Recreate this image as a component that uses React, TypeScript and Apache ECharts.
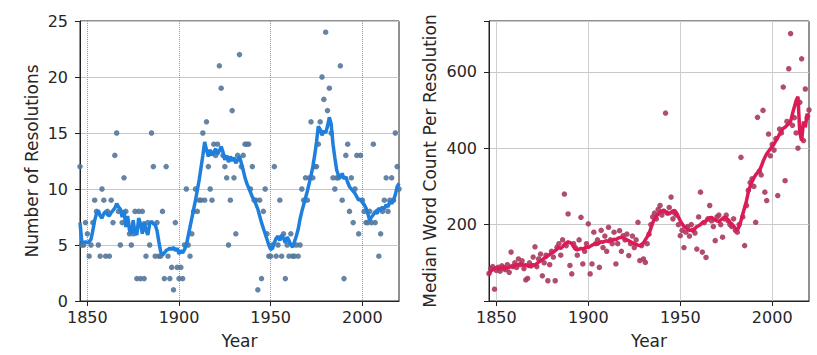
import React, { useEffect, useRef } from "react";
import * as echarts from "echarts";

const FIRST_YEAR = 1846;
const LAST_YEAR = 2020;
const YEARS: number[] = [];
for (let y = FIRST_YEAR; y <= LAST_YEAR; y++) YEARS.push(y);

const X_TICKS = [1850, 1900, 1950, 2000];
const LEFT_Y_TICKS = [0, 5, 10, 15, 20, 25];
const RIGHT_Y_TICKS = [200, 400, 600];

// Number of resolutions per year (scatter)
const RES_COUNT = [
  12, 5, 5, 7,
  6, 4, 5, 7, 9, 8, 5, 4, 10, 9,
  4, 8, 4, 9, 7, 13, 15, 8, 5, 7,
  11, 8, 7, 6, 5, 6, 8, 2, 8, 2,
  8, 2, 4, 7, 5, 15, 12, 4, 7, 4,
  4, 8, 2, 12, 4, 2, 3, 1, 7, 3,
  2, 3, 2, 5, 10, 5, 4, 6, 8, 10,
  8, 9, 9, 15, 9, 16, 12, 10, 9, 14,
  13, 14, 21, 19, 13, 12, 11, 5, 9, 17,
  11, 6, 13, 22, 12, 13, 14, 14, 14, 10,
  12, 9, 9, 1, 9, 2, 8, 10, 6, 4,
  4, 5, 12, 4, 5, 9, 4, 6, 2, 5,
  4, 6, 4, 4, 5, 4, 5, 10, 9, 11,
  9, 11, 16, 11, 12, 12, 14, 16, 20, 18,
  24, 17, 19, 15, 11, 10, 11, 11, 21, 9,
  2, 13, 14, 8, 11, 7, 10, 13, 6, 13,
  9, 8, 7, 7, 8, 7, 14, 7, 8, 4,
  6, 8, 9, 11, 8, 9, 11, 9, 15, 12,
  10,
];

// Rolling trend of resolutions (line)
const RES_TREND = [
  7.0, 5.3, 5.2, 5.3,
  5.2, 5.3, 5.5, 6.3, 7.2, 7.8, 8.1, 7.6, 7.4, 7.8,
  8.0, 7.7, 7.6, 7.9, 8.1, 8.3, 8.7, 8.4, 8.2, 7.5,
  8.1, 6.6, 7.6, 6.3, 6.0, 7.2, 6.1, 5.9, 7.4, 6.9,
  6.0, 7.1, 6.3, 5.9, 6.9, 7.1, 6.9, 6.8, 6.3, 5.3,
  4.4, 4.1, 4.3, 4.5, 4.6, 4.7, 4.6, 4.8, 4.5, 4.7,
  4.2, 4.5, 4.3, 4.6, 5.0, 5.8, 6.6, 7.4, 8.2, 9.0,
  9.9, 10.8, 11.9, 13.0, 14.2, 13.5, 12.9, 13.5, 13.0, 13.3,
  13.6, 13.1, 13.4, 13.8, 13.3, 12.6, 13.0, 12.4, 12.9, 12.5,
  12.8, 12.3, 12.6, 12.9, 12.3, 11.7, 11.0, 10.5, 10.1, 9.7,
  9.3, 9.0, 8.6, 8.2, 7.6, 7.0, 6.5, 6.0, 5.5, 5.0,
  4.6, 4.7, 5.2, 5.6, 5.8, 5.4, 5.9, 5.6, 5.2, 5.7,
  5.4, 5.0, 4.8, 5.3, 5.8, 6.4, 7.3, 8.0, 8.6, 9.2,
  9.8, 10.5, 11.2, 12.0, 13.0, 14.2, 15.6, 15.3, 14.8, 15.2,
  15.0, 15.6, 16.4, 15.8, 14.0, 12.8, 11.7, 11.2, 11.0, 11.4,
  10.9, 11.1, 10.6, 10.2, 10.0, 9.8, 9.6, 9.3, 9.0, 9.1,
  8.8, 8.6, 8.3, 7.8, 7.2, 7.5, 7.7, 8.0, 7.8, 8.3,
  8.1, 8.4, 8.2, 8.6, 8.4, 8.9, 8.7, 9.0, 9.5, 10.2,
  10.5,
];

// Median word count per resolution (scatter)
const WORD_MEDIAN = [
  72, 85, 90, 31,
  80, 88, 78, 92, 85, 82, 95, 75, 128, 90,
  100, 88, 110, 95, 105, 85, 55, 59, 100, 92,
  115, 142, 90, 110, 123, 66, 100, 120, 53, 95,
  130, 115, 53, 141, 150, 120, 160, 280, 145, 228,
  93, 71, 150, 140, 120, 160, 219, 97, 130, 150,
  202, 71, 97, 180, 150, 160, 88, 185, 140, 170,
  130, 193, 160, 150, 180, 97, 150, 184, 130, 171,
  160, 175, 119, 150, 170, 140, 160, 206, 106, 145,
  110, 101, 150, 175, 200, 220, 230, 215, 240, 250,
  225, 235, 492, 230, 245, 272, 215, 230, 225, 200,
  171, 185, 140, 180, 195, 170, 200, 185, 178, 136,
  220, 285, 128, 205, 114, 215, 250, 210, 195, 158,
  220, 225, 200, 167, 215, 225, 210, 200, 195, 215,
  185, 180, 200, 376, 220, 145, 250, 290, 310, 320,
  300, 206, 481, 340, 330, 499, 285, 263, 437, 380,
  410, 395, 425, 276, 450, 440, 560, 315, 470, 608,
  700, 460, 480, 440, 400, 520, 634, 420, 555, 480,
  500,
];

// Rolling trend of median word count (line)
const WORD_TREND = [
  71, 78, 82, 85,
  88, 86, 84, 88, 90, 87, 86, 88, 92, 90,
  93, 96, 94, 97, 96, 93, 95, 92, 90, 93,
  95, 93, 98, 102, 105, 108, 112, 114, 118, 122,
  125, 128, 132, 136, 140, 138, 142, 148, 152, 155,
  153, 150, 142, 136, 134, 136, 138, 136, 139, 141,
  140, 143, 146, 148, 150, 148, 152, 155, 154, 156,
  158, 155, 159, 158, 162, 160, 164, 166, 167, 165,
  162, 160, 158, 155, 152, 150, 148, 146, 145, 148,
  152, 160, 168, 176, 190, 205, 215, 222, 228, 232,
  236, 237, 234, 230, 228, 232, 236, 237, 230, 220,
  210, 202, 195, 192, 188, 185, 186, 184, 190, 195,
  197, 200, 205, 208, 210, 214, 218, 219, 215, 212,
  210, 208, 212, 216, 219, 218, 212, 206, 202, 196,
  190, 185, 195, 210, 228, 245, 262, 285, 300, 312,
  322, 330, 336, 341, 352, 365, 376, 385, 392, 398,
  404, 411, 420, 428, 437, 445, 452, 455, 460, 464,
  470, 490, 507, 525, 535, 440, 420, 470, 455, 490,
  481,
];

const FONT = "DejaVu Sans";
const TEXT = "#262626";
const AXIS = "#222222";

function pairs(vals: number[]) {
  return YEARS.map((y, i) => [y, vals[i]]);
}

function xAxisDef(gridIndex: number, dotted: boolean) {
  return {
    gridIndex,
    type: "value",
    min: FIRST_YEAR,
    max: LAST_YEAR,
    name: "Year",
    nameLocation: "middle",
    nameGap: 31,
    nameTextStyle: { fontFamily: FONT, fontSize: 17, color: TEXT },
    axisLine: { show: true, onZero: false, lineStyle: { color: AXIS, width: 1 } },
    axisTick: { show: true, inside: false, length: 5, customValues: X_TICKS, lineStyle: { color: AXIS } },
    axisLabel: {
      customValues: X_TICKS,
      formatter: (v: number) => String(Math.round(v)),
      fontFamily: FONT,
      fontSize: 16,
      color: TEXT,
      margin: 8,
    },
    splitLine: {
      show: true,
      lineStyle: dotted ? { type: "dotted", color: "#9a9a9a", width: 1 } : { color: "#cfcfcf", width: 1 },
    },
  };
}

function yAxisDef(
  gridIndex: number,
  name: string,
  min: number,
  max: number,
  interval: number,
  ticks: number[],
  gap: number
) {
  return {
    gridIndex,
    type: "value",
    min,
    max,
    interval,
    name,
    nameLocation: "middle",
    nameGap: gap,
    nameTextStyle: { fontFamily: FONT, fontSize: 17, color: TEXT },
    axisLine: { show: true, onZero: false, lineStyle: { color: AXIS, width: 1 } },
    axisTick: { show: true, inside: false, length: 5, lineStyle: { color: AXIS } },
    axisLabel: {
      formatter: (v: number) => (ticks.indexOf(v) >= 0 ? String(v) : ""),
      fontFamily: FONT,
      fontSize: 16,
      color: TEXT,
      margin: 12,
    },
    splitLine: { show: true, lineStyle: { color: "#c8c8c8", width: 1 } },
  };
}

export default function App() {
  const ref = useRef<HTMLDivElement>(null);
  useEffect(() => {
    if (!ref.current) return;
    const chart = echarts.init(ref.current, undefined, { renderer: "svg" });
    chart.setOption({
      animation: false,
      backgroundColor: "#ffffff",
      grid: [
        { left: 80, top: 21, width: 319, height: 280, show: true, borderColor: AXIS, borderWidth: 1, backgroundColor: "transparent" },
        { left: 489, top: 21, width: 320, height: 280, show: true, borderColor: AXIS, borderWidth: 1, backgroundColor: "transparent" },
      ],
      xAxis: [xAxisDef(0, true), xAxisDef(1, false)],
      yAxis: [
        yAxisDef(0, "Number of Resolutions", 0, 25, 5, LEFT_Y_TICKS, 40),
        yAxisDef(1, "Median Word Count Per Resolution", 0, 733, 200, RIGHT_Y_TICKS, 51),
      ],
      series: [
        {
          type: "scatter",
          xAxisIndex: 0,
          yAxisIndex: 0,
          data: pairs(RES_COUNT),
          symbolSize: 5.5,
          itemStyle: { color: "#557799", opacity: 0.9 },
        },
        {
          type: "line",
          xAxisIndex: 0,
          yAxisIndex: 0,
          data: pairs(RES_TREND),
          showSymbol: false,
          lineStyle: { color: "#1f7fdc", width: 3.5 },
        },
        {
          type: "scatter",
          xAxisIndex: 1,
          yAxisIndex: 1,
          data: pairs(WORD_MEDIAN),
          symbolSize: 5.5,
          itemStyle: { color: "#a8385f", opacity: 0.9 },
        },
        {
          type: "line",
          xAxisIndex: 1,
          yAxisIndex: 1,
          data: pairs(WORD_TREND),
          showSymbol: false,
          lineStyle: { color: "#dc1a55", width: 3.5 },
        },
      ],
    });
    return () => chart.dispose();
  }, []);
  return (
    <div
      ref={ref}
      style={{ position: "fixed", left: 0, top: 0, width: 817, height: 355, background: "#fff" }}
    />
  );
}
